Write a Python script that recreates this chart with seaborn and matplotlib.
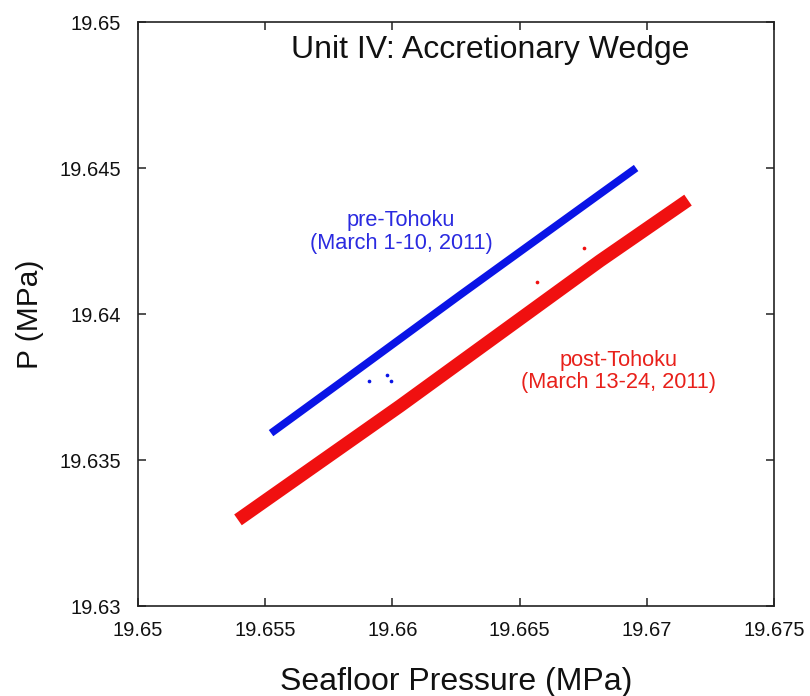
import numpy as np
import pandas as pd
import matplotlib
matplotlib.use("Agg")
import matplotlib.pyplot as plt
import seaborn as sns

# ---- data ----
pre_x = [19.65523, 19.65794, 19.66266, 19.66816, 19.66958]
pre_y = [19.63592, 19.63764, 19.64065, 19.64411, 19.64500]
pre_out_x = [19.65908, 19.65979, 19.65994]
pre_out_y = [19.63771, 19.63791, 19.63771]

post_x = [19.65393, 19.66030, 19.66816, 19.67162]
post_y = [19.63295, 19.63685, 19.64182, 19.64390]
post_out_x = [19.66753, 19.66568]
post_out_y = [19.64226, 19.64110]

x_ticks = [19.65, 19.655, 19.66, 19.665, 19.67, 19.675]
x_tick_labels = ["19.65", "19.655", "19.66", "19.665", "19.67", "19.675"]
y_ticks = [19.63, 19.635, 19.64, 19.645, 19.65]
y_tick_labels = ["19.63", "19.635", "19.64", "19.645", "19.65"]

BLUE = "#0a14e6"
RED = "#f01010"

sns.set_style("ticks")
plt.rcParams["font.family"] = ["Liberation Sans", "DejaVu Sans"]

fig = plt.figure(figsize=(8.1, 6.96), dpi=100)
ax = fig.add_axes([138 / 810, 1 - 606 / 696, (774 - 138) / 810, (606 - 22) / 696])

pre = pd.DataFrame({"x": pre_x, "y": pre_y})
post = pd.DataFrame({"x": post_x, "y": post_y})
sns.lineplot(data=post, x="x", y="y", ax=ax, color=RED, linewidth=9.5,
             sort=False, estimator=None, solid_capstyle="butt",
             solid_joinstyle="round")
sns.lineplot(data=pre, x="x", y="y", ax=ax, color=BLUE, linewidth=5.5,
             sort=False, estimator=None, solid_capstyle="butt",
             solid_joinstyle="round")
sns.scatterplot(x=pre_out_x, y=pre_out_y, ax=ax, color=BLUE, s=7, linewidth=0)
sns.scatterplot(x=post_out_x, y=post_out_y, ax=ax, color=RED, s=7, linewidth=0)

ax.set_xlim(19.65, 19.675)
ax.set_ylim(19.63, 19.65)
ax.set_xticks(x_ticks)
ax.set_xticklabels(x_tick_labels)
ax.set_yticks(y_ticks)
ax.set_yticklabels(y_tick_labels)
ax.tick_params(direction="in", length=6, width=1.1, color="#222222",
               top=True, right=True, labelsize=14.5, labelcolor="#111111")
ax.tick_params(axis="x", pad=11)
ax.tick_params(axis="y", pad=12)
for s in ax.spines.values():
    s.set_visible(True)
    s.set_linewidth(1.2)
    s.set_color("#222222")

ax.set_xlabel("Seafloor Pressure (MPa)", fontsize=23, labelpad=19, color="#111111")
ax.set_ylabel("P (MPa)", fontsize=21.5, labelpad=11, color="#111111")

ax.text(0.553, 0.952, "Unit IV: Accretionary Wedge", transform=ax.transAxes,
        ha="center", va="center", fontsize=23, color="#111111")
ax.text(0.4135, 0.640, "pre-Tohoku\n(March 1-10, 2011)", transform=ax.transAxes,
        ha="center", va="center", fontsize=15.7, color="#2a2ae0", linespacing=1.1)
ax.text(0.755, 0.4015, "post-Tohoku\n(March 13-24, 2011)", transform=ax.transAxes,
        ha="center", va="center", fontsize=15.7, color="#e8201a", linespacing=1.1)

fig.savefig("out.png", dpi=100)
